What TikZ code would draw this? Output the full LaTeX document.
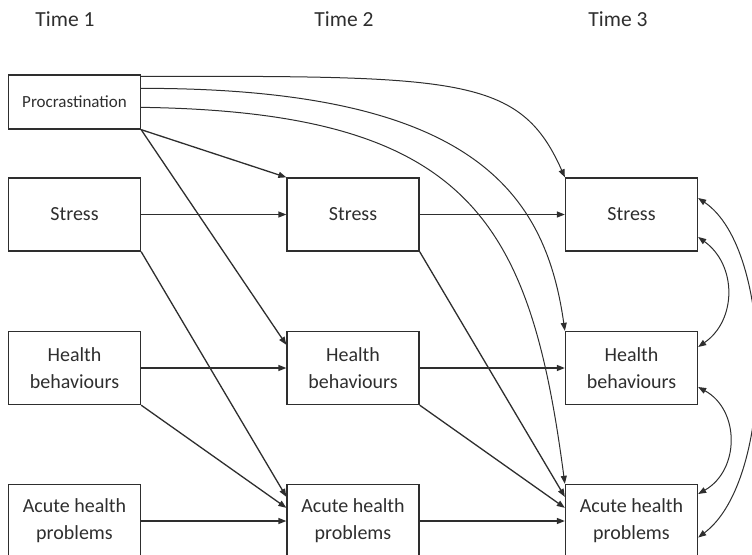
\documentclass[tikz,border=0pt]{standalone}
\usepackage{fontspec}
\setmainfont{Carlito}
\usetikzlibrary{arrows.meta}
\colorlet{ink}{black!82}
\tikzset{
    varbox/.style={draw=ink,line width=1.3pt,rectangle,minimum width=132pt,minimum height=73pt,inner sep=0pt,align=center,text=ink,font=\fontsize{20}{27}\selectfont},
    timelabel/.style={anchor=base,text=ink,font=\fontsize{21.5}{26}\selectfont},
    arr/.style={draw=ink,line width=1.3pt,-{Triangle[length=8pt,width=6pt]}},
    curvearr/.style={draw=ink,line width=1pt,-{Triangle[length=8pt,width=6pt]}},
    twoway/.style={draw=ink,line width=1pt,{Triangle[length=8pt,width=6pt]}-{Triangle[length=8pt,width=6pt]}}
}
\begin{document}
\begin{tikzpicture}[x=1pt,y=-1pt]
                \useasboundingbox (0,0) rectangle (752,554);
                \node[timelabel] (t1) at (65,27) {Time 1};
                \node[timelabel] (t2) at (344,27) {Time 2};
                \node[timelabel] (t3) at (618,27) {Time 3};
                \node[varbox,minimum height=54pt,font=\fontsize{17}{20}\selectfont] (proc) at (74.5,102) {Procrastination};
                \foreach \c/\x in {1/74.5,2/353,3/631.5}{
                    \node[varbox] (s\c) at (\x,214.5) {Stress};
                    \node[varbox] (h\c) at (\x,368) {Health\\behaviours};
                    \node[varbox] (a\c) at (\x,521) {Acute health\\problems};
                }
                \foreach \p/\n in {1/2,2/3}{
                    \draw[arr] (s\p.east) -- (s\n.west);
                    \draw[arr] (h\p.east) -- (h\n.west);
                    \draw[arr] (a\p.east) -- (a\n.west);
                    \draw[arr] (s\p.south east) -- ([yshift=-13pt]a\n.north west);
                    \draw[arr] (h\p.south east) -- ([yshift=-24pt]a\n.north west);
                }
                \draw[arr] (proc.south east) -- (s2.north west);
                \draw[arr] (proc.south east) -- ([yshift=-14pt]h2.north west);
                \draw[curvearr] ([yshift=-2pt]proc.north east) .. controls (460,76) and (520,76) .. (s3.north west);
                \draw[curvearr] ([yshift=-14pt]proc.north east) .. controls (470,88) and (545,190) .. (h3.north west);
                \draw[curvearr] ([yshift=-33pt]proc.north east) .. controls (470,112) and (530,220) .. (a3.north west);
                \draw[twoway] ([yshift=-22.5pt]s3.east) .. controls (737,265) and (737,320) .. ([yshift=21pt]h3.east);
                \draw[twoway] ([yshift=-19pt]h3.east) .. controls (740,410) and (740,470) .. ([yshift=27pt]a3.east);
                \draw[twoway] ([yshift=16.5pt]s3.east) .. controls (775,250) and (775,480) .. ([yshift=-16.5pt]a3.east);
            \end{tikzpicture}
\end{document}
